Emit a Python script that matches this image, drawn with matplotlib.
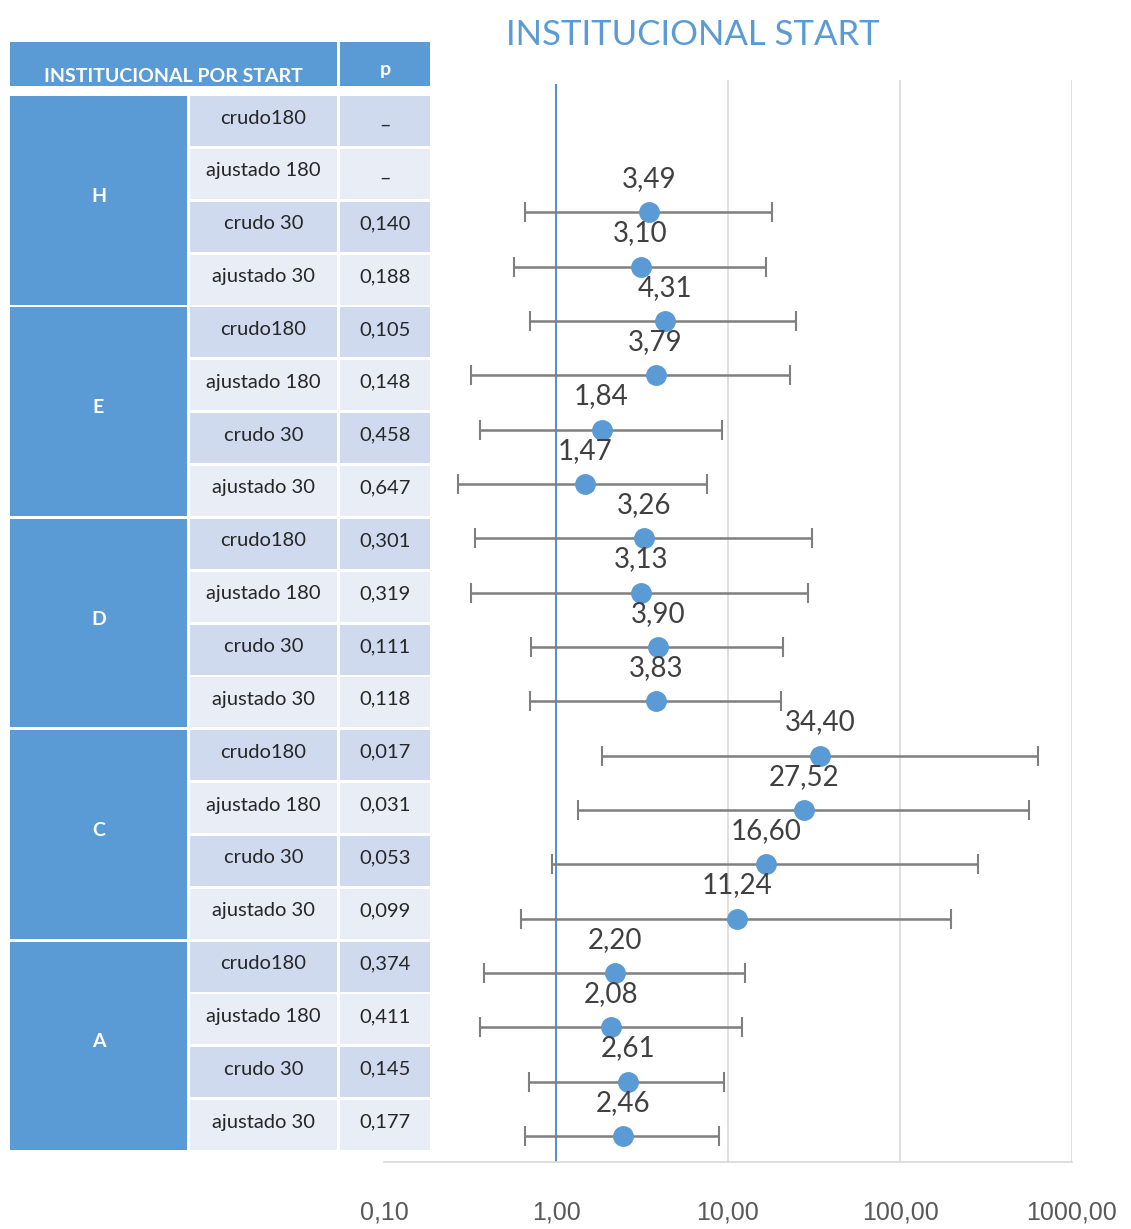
import numpy as np
import matplotlib
matplotlib.use("Agg")
import matplotlib.pyplot as plt
from matplotlib.patches import Rectangle

# ---- data ---------------------------------------------------------------
groups = ["H", "E", "D", "C", "A"]
subrows = ["crudo180", "ajustado 180", "crudo 30", "ajustado 30"]
p_values = ["–", "–", "0,140", "0,188",
            "0,105", "0,148", "0,458", "0,647",
            "0,301", "0,319", "0,111", "0,118",
            "0,017", "0,031", "0,053", "0,099",
            "0,374", "0,411", "0,145", "0,177"]
odds = [np.nan, np.nan, 3.49, 3.10,
        4.31, 3.79, 1.84, 1.47,
        3.26, 3.13, 3.90, 3.83,
        34.40, 27.52, 16.60, 11.24,
        2.20, 2.08, 2.61, 2.46]
ci_low = [np.nan, np.nan, 0.66, 0.57,
          0.71, 0.32, 0.36, 0.27,
          0.34, 0.32, 0.72, 0.71,
          1.85, 1.34, 0.95, 0.63,
          0.38, 0.36, 0.70, 0.66]
ci_high = [np.nan, np.nan, 18.0, 16.6,
           24.8, 22.9, 9.2, 7.5,
           30.8, 29.2, 20.9, 20.3,
           636.0, 563.0, 284.0, 198.0,
           12.5, 12.1, 9.5, 8.9]
x_ticks = [0.1, 1, 10, 100, 1000]
x_ticklabels = ["0,10", "1,00", "10,00", "100,00", "1000,00"]
title = "INSTITUCIONAL START"
table_header = "INSTITUCIONAL POR START"

BLUE = "#5B9BD5"
ROW_DARK = "#CFDAEE"
ROW_LIGHT = "#E8EDF6"
TXT = "#262626"

W, H = 1131, 1229
fig = plt.figure(figsize=(W / 100, H / 100), dpi=100)

# ---- table (drawn in pixel coordinates) ---------------------------------
tab = fig.add_axes([0, 0, 1, 1])
tab.set_xlim(0, W)
tab.set_ylim(H, 0)
tab.axis("off")

col_grp = (10, 187)
col_lbl = (190, 337)
col_p = (340, 430)
top0, pitch, rh = 96, 52.85, 50

tab.add_patch(Rectangle((col_grp[0], 42), col_lbl[1] - col_grp[0], 44, color=BLUE, lw=0))
tab.add_patch(Rectangle((col_p[0], 42), col_p[1] - col_p[0], 44, color=BLUE, lw=0))
tab.text((col_grp[0] + col_lbl[1]) / 2, 77, table_header, ha="center", va="center",
         color="white", fontsize=14, fontweight="bold", family="Lato")
tab.text((col_p[0] + col_p[1]) / 2, 69, "p", ha="center", va="center",
         color="white", fontsize=14, fontweight="bold", family="Lato")

n_sub = len(subrows)
for g, name in enumerate(groups):
    gtop = top0 + g * n_sub * pitch
    gbot = gtop + (n_sub - 1) * pitch + rh
    tab.add_patch(Rectangle((col_grp[0], gtop), col_grp[1] - col_grp[0], gbot - gtop,
                            color=BLUE, lw=0))
    tab.text((col_grp[0] + col_grp[1]) / 2, (gtop + gbot) / 2 - 4, name, ha="center",
             va="center", color="white", fontsize=14, fontweight="bold", family="Lato")
    for s, sub in enumerate(subrows):
        i = g * n_sub + s
        top = top0 + i * pitch
        face = ROW_DARK if i % 2 == 0 else ROW_LIGHT
        for c0, c1 in (col_lbl, col_p):
            tab.add_patch(Rectangle((c0, top), c1 - c0, rh, color=face, lw=0))
        cy = top + rh / 2 - 3
        tab.text((col_lbl[0] + col_lbl[1]) / 2, cy, sub, ha="center", va="center",
                 color=TXT, fontsize=14.5, family="Lato")
        # the dash placeholders sit low in their cell
        py = cy + 7 if p_values[i] == "–" else cy
        tab.text((col_p[0] + col_p[1]) / 2, py, p_values[i], ha="center", va="center",
                 color=TXT, fontsize=14.5, family="Lato")

# ---- forest plot --------------------------------------------------------
px_left, px_right, px_top, px_bot = 384, 1072, 80, 1162
ax = fig.add_axes([px_left / W, 1 - px_bot / H,
                   (px_right - px_left) / W, (px_bot - px_top) / H])
ax.patch.set_alpha(0)
ax.set_xscale("log")
ax.set_xlim(x_ticks[0], x_ticks[-1])
ax.set_ylim(19.48, -0.434)

y = np.arange(len(odds))
odds_a = np.array(odds)
lo = np.array(ci_low)
hi = np.array(ci_high)
ok = ~np.isnan(odds_a)

for xv in x_ticks[2:]:
    ax.axvline(xv, color="#D9D9D9", lw=1.2, zorder=0)
ax.axvline(1, ymax=0.995, color="#4F8FCF", lw=1.4, zorder=1)

ax.errorbar(odds_a[ok], y[ok], xerr=[odds_a[ok] - lo[ok], hi[ok] - odds_a[ok]],
            fmt="o", color=BLUE, ms=14, ecolor="#7F7F7F", elinewidth=1.8,
            capsize=7, capthick=1.5, zorder=3)

for xv, yv in zip(odds_a[ok], y[ok]):
    ax.annotate(f"{xv:.2f}".replace(".", ","), (xv, yv), xytext=(0, 24),
                textcoords="offset points", ha="center", va="center",
                fontsize=20, color="#404040", family="Lato", zorder=4)

for side in ("top", "right", "left"):
    ax.spines[side].set_visible(False)
ax.spines["bottom"].set_color("#D9D9D9")
ax.spines["bottom"].set_linewidth(1.2)
ax.set_yticks([])
ax.set_xticks(x_ticks)
ax.set_xticklabels(x_ticklabels)
ax.xaxis.set_minor_locator(matplotlib.ticker.NullLocator())
ax.tick_params(axis="x", length=0, pad=28, labelsize=18, labelcolor="#595959")
for lab in ax.get_xticklabels():
    lab.set_family("Liberation Sans")

fig.text(693 / W, 1 - 35 / H, title, ha="center", va="center", color=BLUE,
         fontsize=25, family="Lato")

fig.savefig("out.png", dpi=100, facecolor="white")
